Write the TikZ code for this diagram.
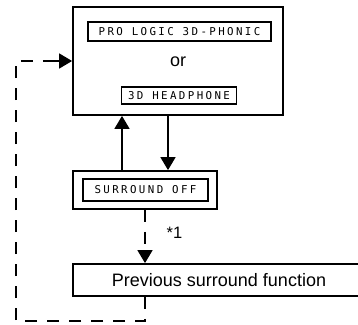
\documentclass[tikz,border=0pt]{standalone}
\usepackage{fontspec}
\setmainfont{Liberation Sans}
\newfontfamily\lcdfont[LetterSpace=22]{DejaVu Sans Mono}
\usetikzlibrary{arrows.meta}
\tikzset{
  bigbox/.style={draw, line width=1.8pt, inner sep=0pt, rectangle},
  lcdbox/.style={draw, line width=1.2pt, inner sep=0pt, rectangle, font=\lcdfont\fontsize{10.8}{12}\selectfont},
  txt/.style={font=\fontsize{18}{20}\selectfont, inner sep=0pt},
  arr/.style={line width=1.6pt, -{Triangle[width=15pt,length=13pt]}},
  dsh/.style={line width=1.6pt, dash pattern=on 12pt off 10pt},
}
\begin{document}
\begin{tikzpicture}[x=1pt,y=-1pt]
\clip (0,0) rectangle (358,324);
\node[bigbox, minimum width=210pt, minimum height=108pt] (main) at (178,61) {};
\node[lcdbox, minimum width=183pt, minimum height=19pt] (pro) at (179.5,31.5) {PRO LOGIC 3D-PHONIC};
\node[txt] (or) at (178,62) {or};
\node[lcdbox, minimum width=115pt, minimum height=17pt] (hp) at (179,95.5) {3D HEADPHONE};
\node[bigbox, minimum width=144pt, minimum height=38pt] (soff) at (145,190) {};
\node[lcdbox, minimum width=125pt, minimum height=22pt] (soffin) at (145.5,190) {SURROUND OFF};
\node[bigbox, minimum width=292pt, minimum height=32pt, font=\fontsize{18}{20}\selectfont] (prev) at (219,280) {Previous surround function};
\node[txt, font=\fontsize{16.5}{18}\selectfont] (star) at (174.5,233) {*1};
\coordinate (upx) at (122,0);
\coordinate (dnx) at (168,0);
\coordinate (dx) at (145,0);
\coordinate (bl) at (16,321);
\coordinate (tl) at (16,61);
\draw[arr] (upx |- soff.north) -- (upx |- main.south);
\draw[arr] (dnx |- main.south) -- (dnx |- soff.north);
\draw[dsh, -{Triangle[width=15pt,length=13pt]}] (dx |- soff.south) -- (dx |- prev.north);
\draw[dsh] (dx |- prev.south) -- (dx |- bl) -- (bl) -- (tl) -- ([xshift=-13pt]main.west);
\draw[arr, -{Triangle[width=15pt,length=13pt]}] ([xshift=-18pt]main.west) -- (main.west);
\end{tikzpicture}
\end{document}
